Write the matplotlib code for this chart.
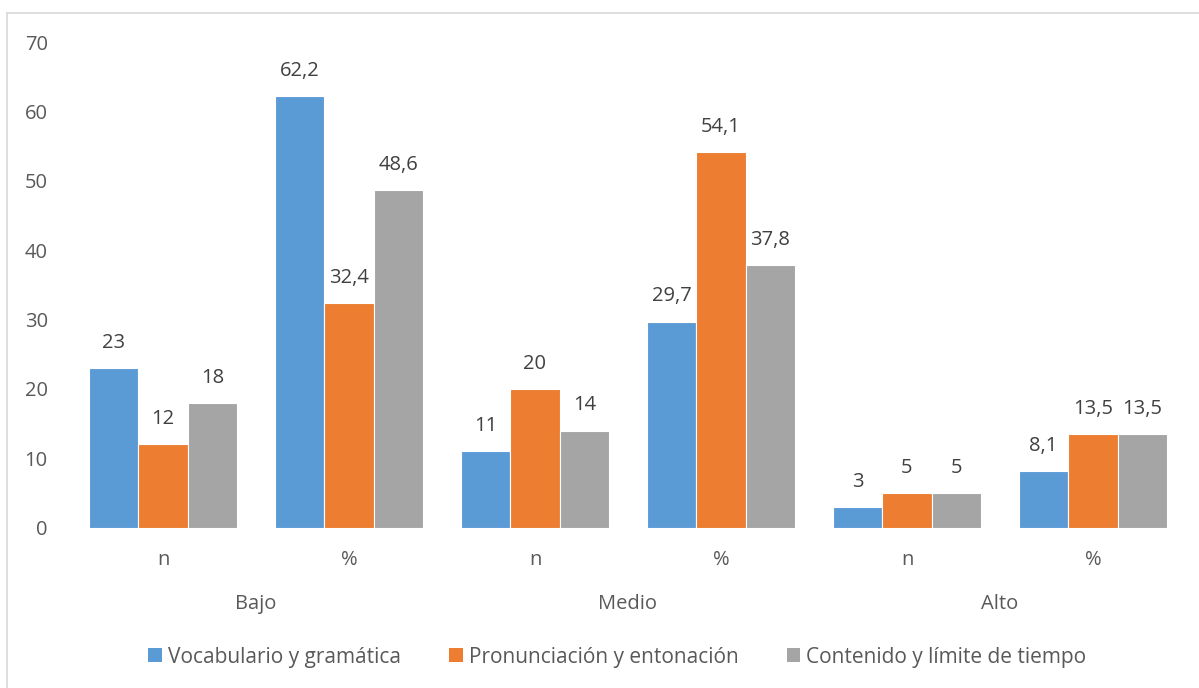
import matplotlib.pyplot as plt
from matplotlib.lines import Line2D
from matplotlib.patches import Patch
import numpy as np

plt.rcParams['font.family'] = ['Open Sans', 'DejaVu Sans']

levels = ["Bajo", "Medio", "Alto"]
sub_labels = ["n", "%", "n", "%", "n", "%"]
series_names = ["Vocabulario y gramática", "Pronunciación y entonación",
                "Contenido y límite de tiempo"]
vocabulario = [23, 62.2, 11, 29.7, 3, 8.1]
pronunciacion = [12, 32.4, 20, 54.1, 5, 13.5]
contenido = [18, 48.6, 14, 37.8, 5, 13.5]
colors = ["#5B9BD5", "#ED7D31", "#A5A5A5"]
text_color = "#595959"

W, H = 1199, 688
fig = plt.figure(figsize=(W / 100, H / 100), dpi=100)
ax = fig.add_axes([70 / W, 1 - 527.7 / H, (1186 - 70) / W, (527.7 - 42) / H])

x = np.arange(len(sub_labels))
width = 0.266
series = [vocabulario, pronunciacion, contenido]


def fmt(v):
    return f"{v:g}".replace(".", ",")


for i, (vals, col) in enumerate(zip(series, colors)):
    pos = x + (i - 1) * width
    bars = ax.bar(pos, vals, width, color=col, edgecolor="white", linewidth=0.8)
    for b, v in zip(bars, vals):
        ax.annotate(fmt(v), (b.get_x() + b.get_width() / 2, v),
                    xytext=(0, 11), textcoords="offset points",
                    ha="center", va="bottom", fontsize=14.5, color="#404040")

ax.set_xlim(-0.5, len(sub_labels) - 0.5)
ax.set_ylim(0, 70)
ax.set_yticks(range(0, 71, 10))
ax.tick_params(axis="y", length=0, pad=16, labelsize=14.5, labelcolor=text_color)
ax.set_xticks(x)
ax.set_xticklabels(sub_labels)
ax.tick_params(axis="x", length=0, pad=16, labelsize=14.5, labelcolor=text_color)
for s in ax.spines.values():
    s.set_visible(False)

# group labels below the sub-categories
for j, lvl in enumerate(levels):
    xc = 2 * j + 0.5
    ax.text(xc, -11.0, lvl, ha="center", va="center", fontsize=14.5,
            color=text_color, transform=ax.transData, clip_on=False)

handles = [Patch(facecolor=c, edgecolor="none") for c in colors]
fig.legend(handles, series_names, loc="center", bbox_to_anchor=(0.515, 1 - 657 / H),
           ncol=3, frameon=False, fontsize=15, labelcolor=text_color,
           handlelength=0.65, handleheight=0.65, handletextpad=0.3, columnspacing=2.3)

# outer chart border (top and left edges)
fig.add_artist(Line2D([7 / W, 1], [1 - 13 / H, 1 - 13 / H], color="#D9D9D9", lw=1.2,
                      transform=fig.transFigure))
fig.add_artist(Line2D([7 / W, 7 / W], [0, 1 - 13 / H], color="#D9D9D9", lw=1.2,
                      transform=fig.transFigure))

fig.savefig("out.png", dpi=100)
